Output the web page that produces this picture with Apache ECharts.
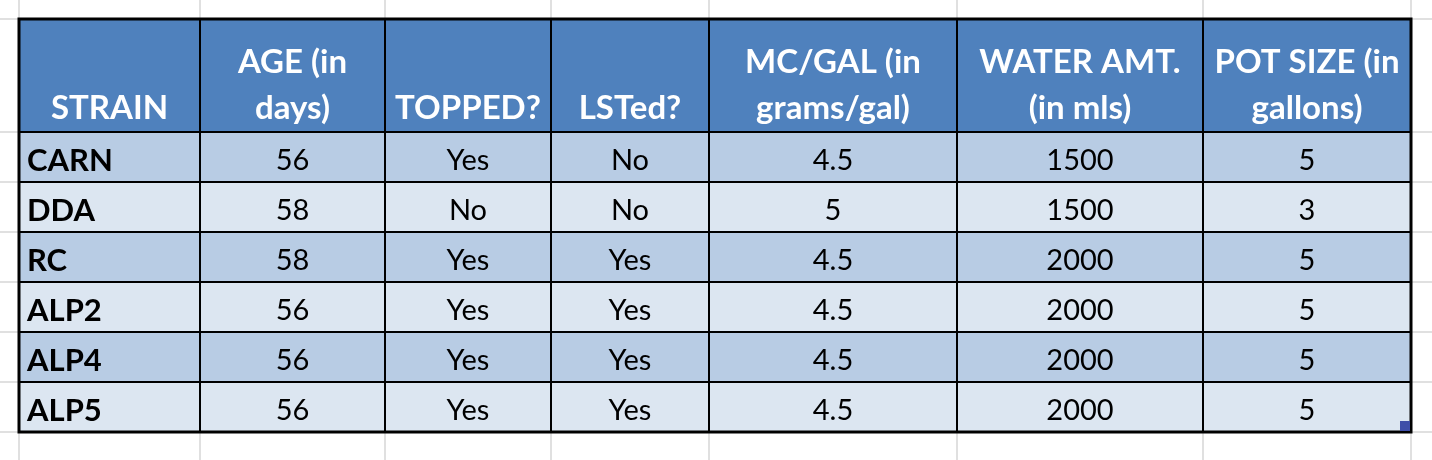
<!DOCTYPE html>
<html>
<head>
<meta charset="utf-8">
<script src="https://cdn.jsdelivr.net/npm/echarts@6/dist/echarts.min.js"></script>
<style>
html, body { margin: 0; padding: 0; background: #fff; }
#main { width: 1432px; height: 460px; }
</style>
</head>
<body>
<div id="main"></div>
<script>
// table content
const headers = ['STRAIN', 'AGE (in\ndays)', 'TOPPED?', 'LSTed?', 'MC/GAL (in\ngrams/gal)', 'WATER AMT.\n(in mls)', 'POT SIZE (in\ngallons)'];
const strains = ['CARN', 'DDA', 'RC', 'ALP2', 'ALP4', 'ALP5'];
const ageDays = [56, 58, 58, 56, 56, 56];
const topped = ['Yes', 'No', 'Yes', 'Yes', 'Yes', 'Yes'];
const lsted = ['No', 'No', 'Yes', 'Yes', 'Yes', 'Yes'];
const mcPerGal = [4.5, 5, 4.5, 4.5, 4.5, 4.5];
const waterMl = [1500, 1500, 2000, 2000, 2000, 2000];
const potGallons = [5, 3, 5, 5, 5, 5];

// sheet layout (column / row edges on the sheet)
const colEdges = [19, 200, 385, 551, 709, 957, 1203, 1411];
const rowEdges = [19, 132, 182, 232, 282, 332, 382, 432];

const rows = strains.map((s, i) => [s, ageDays[i], topped[i], lsted[i], mcPerGal[i], waterMl[i], potGallons[i]]);

let cells = [];
headers.forEach((h, c) => cells.push([c, 0, h]));
rows.forEach((row, r) => row.forEach((v, c) => cells.push([c, r + 1, String(v)])));

// gray sheet gridlines
let gridLines = [];
colEdges.forEach(x => gridLines.push(['v', x]));
rowEdges.forEach(y => gridLines.push(['h', y]));

let myChart = echarts.init(document.getElementById('main'));
myChart.setOption({
  animation: false,
  grid: { left: 0, right: 0, top: 0, bottom: 0 },
  xAxis: { type: 'value', min: 0, max: 1432, show: false },
  yAxis: { type: 'value', min: 0, max: 460, inverse: true, show: false },
  series: [
    {
      type: 'custom',
      name: 'sheet',
      z: 1,
      data: gridLines.map((g, i) => [i]),
      renderItem: (params, api) => {
        const g = gridLines[params.dataIndex];
        let a, b;
        if (g[0] == 'v') {
          a = api.coord([g[1], 0]); b = api.coord([g[1], 460]);
        } else {
          a = api.coord([0, g[1]]); b = api.coord([1432, g[1]]);
        }
        return {
          type: 'line',
          shape: { x1: a[0], y1: a[1], x2: b[0], y2: b[1] },
          style: { stroke: '#d6d6d6', lineWidth: 1.5 }
        };
      }
    },
    {
      type: 'custom',
      name: 'cells',
      z: 2,
      data: cells.map((c, i) => [i]),
      renderItem: (params, api) => {
        const [c, r, txt] = cells[params.dataIndex];
        const p0 = api.coord([colEdges[c], rowEdges[r]]);
        const p1 = api.coord([colEdges[c + 1], rowEdges[r + 1]]);
        const isHead = r == 0;
        const fill = isHead ? '#4f81bd' : (r % 2 == 1 ? '#b8cce4' : '#dce6f1');
        const left = c == 0 && !isHead;
        return {
          type: 'group',
          children: [
            {
              type: 'rect',
              shape: { x: p0[0], y: p0[1], width: p1[0] - p0[0], height: p1[1] - p0[1] },
              style: { fill: fill, stroke: '#000', lineWidth: 2 }
            },
            {
              type: 'text',
              x: left ? p0[0] + 8 : (p0[0] + p1[0]) / 2,
              y: isHead ? p1[1] - 1 : (p0[1] + p1[1]) / 2 + 4,
              style: {
                text: txt,
                fill: isHead ? '#fff' : '#000',
                fontFamily: 'Lato',
                fontWeight: isHead || c == 0 ? 'bold' : 'normal',
                fontSize: isHead ? 33 : (c == 0 ? 31 : 29),
                lineHeight: isHead ? 46 : 32,
                align: left ? 'left' : 'center',
                verticalAlign: isHead ? 'bottom' : 'middle'
              }
            }
          ]
        };
      }
    },
    {
      type: 'custom',
      name: 'frame',
      z: 3,
      data: [[0]],
      renderItem: (params, api) => {
        const p0 = api.coord([colEdges[0], rowEdges[0]]);
        const p1 = api.coord([colEdges[colEdges.length - 1], rowEdges[rowEdges.length - 1]]);
        return {
          type: 'group',
          children: [
            {
              type: 'rect',
              shape: { x: p0[0], y: p0[1], width: p1[0] - p0[0], height: p1[1] - p0[1] },
              style: { fill: null, stroke: '#000', lineWidth: 3 }
            },
            {
              // selection handle in the corner
              type: 'rect',
              shape: { x: p1[0] - 11, y: p1[1] - 11, width: 10, height: 10 },
              style: { fill: '#3f4fa8' }
            }
          ]
        };
      }
    }
  ]
});
</script>
</body>
</html>
